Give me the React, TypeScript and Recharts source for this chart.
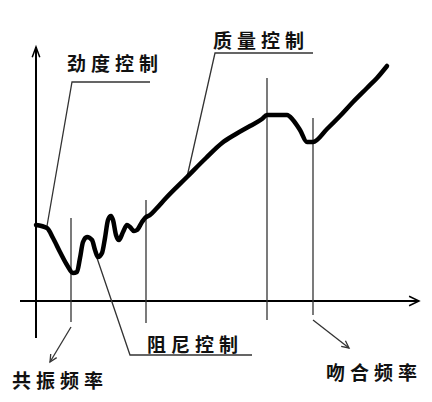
import { LineChart, Line, XAxis, YAxis, ReferenceDot } from "recharts";

type Pt = { x: number; y: number };

// frequency response (origin at the axes crossing)
const responseX = [0, 11, 17, 24, 31, 37, 41, 44, 47, 51, 56, 59, 62, 66, 69, 72, 75, 77, 80, 83, 87, 91, 94, 98, 101, 106, 109, 114, 120, 130, 151, 170, 186, 200, 214, 226, 231, 251, 257, 264, 271, 277, 291, 304, 317, 331, 341, 351];
const responseY = [76, 73, 63, 49, 36, 28, 29, 43, 59, 64, 61, 51, 44, 48, 63, 81, 85, 81, 66, 61, 69, 76, 74, 70, 71, 79, 83, 86, 92, 103, 124, 143, 158, 167, 175, 182, 186, 186, 181, 171, 159, 159, 172, 185, 199, 213, 223, 235];

const axisXRange = [-16, 383];
const axisYRange = [-37, 254];

const dividerX = [35, 110, 231, 277];
const dividerTop = [83, 101, 223, 183];
const dividerBottom = [-21, -22, -19, -14];

const labelText = ["劲度控制", "质量控制", "阻尼控制", "共振频率", "吻合频率"];
const labelX = [31, 177, 111, -24, 290];
const labelY = [238.5, 261.5, -42, -78, -70];

const leaders: Pt[][] = [
  [{ x: 11, y: 75 }, { x: 36, y: 219 }, { x: 114, y: 219 }],
  [{ x: 151, y: 124 }, { x: 179, y: 248 }, { x: 277, y: 248 }],
  [{ x: 61, y: 43 }, { x: 94, y: -54 }, { x: 216, y: -54 }],
];

const arrows: Pt[][] = [
  [{ x: 35, y: -26 }, { x: 14, y: -61 }],
  [{ x: 277, y: -19 }, { x: 313, y: -47 }],
];

const response = responseX.map((x, i) => ({ x, y: responseY[i] }));

function head(from: Pt, to: Pt, len = 9, spread = 0.45): Pt[] {
  const a = Math.atan2(to.y - from.y, to.x - from.x);
  return [
    { x: to.x - len * Math.cos(a - spread), y: to.y - len * Math.sin(a - spread) },
    to,
    { x: to.x - len * Math.cos(a + spread), y: to.y - len * Math.sin(a + spread) },
  ];
}

const segs: { pts: Pt[]; w: number; c: string }[] = [
  { pts: [{ x: axisXRange[0], y: 0 }, { x: axisXRange[1], y: 0 }], w: 2, c: "#000" },
  { pts: [{ x: 0, y: axisYRange[0] }, { x: 0, y: axisYRange[1] }], w: 2, c: "#000" },
  { pts: head({ x: 0, y: 0 }, { x: 0, y: axisYRange[1] }, 11, 0.35), w: 1.5, c: "#000" },
  { pts: head({ x: 0, y: 0 }, { x: axisXRange[1], y: 0 }, 11, 0.45), w: 1.5, c: "#000" },
  ...dividerX.map((x, i) => ({
    pts: [{ x, y: dividerTop[i] }, { x, y: dividerBottom[i] }],
    w: 1.3,
    c: "#333",
  })),
  ...leaders.map((pts) => ({ pts, w: 1.3, c: "#333" })),
  ...arrows.map((pts) => ({ pts, w: 1.3, c: "#333" })),
  ...arrows.map((pts) => ({ pts: head(pts[0], pts[1], 8, 0.45), w: 1.3, c: "#333" })),
];

const TextMark = (text: string) => (props: any) => (
  <text
    x={props.cx}
    y={props.cy}
    dominantBaseline="central"
    fontFamily="'Noto Sans CJK SC', sans-serif"
    fontWeight={700}
    fontSize={19}
    letterSpacing={5}
    fill="#111"
  >
    {text}
  </text>
);

export default function App() {
  return (
    <div style={{ width: 432, height: 402, background: "#fff" }}>
      <style>{"body{margin:0}"}</style>
      <LineChart width={432} height={402} margin={{ top: 0, right: 0, bottom: 0, left: 0 }}>
        <XAxis type="number" dataKey="x" domain={[-36, 396]} allowDataOverflow hide />
        <YAxis type="number" dataKey="y" domain={[-101, 301]} allowDataOverflow hide />
        {segs.map((s, i) => (
          <Line
            key={"s" + i}
            data={s.pts}
            dataKey="y"
            type="linear"
            stroke={s.c}
            strokeWidth={s.w}
            dot={false}
            activeDot={false}
            isAnimationActive={false}
          />
        ))}
        <Line
          data={response}
          dataKey="y"
          type="monotone"
          stroke="#000"
          strokeWidth={4.5}
          strokeLinejoin="round"
          strokeLinecap="round"
          dot={false}
          activeDot={false}
          isAnimationActive={false}
        />
        {labelText.map((t, i) => (
          <ReferenceDot key={t} x={labelX[i]} y={labelY[i]} r={0} shape={TextMark(t)} />
        ))}
      </LineChart>
    </div>
  );
}
